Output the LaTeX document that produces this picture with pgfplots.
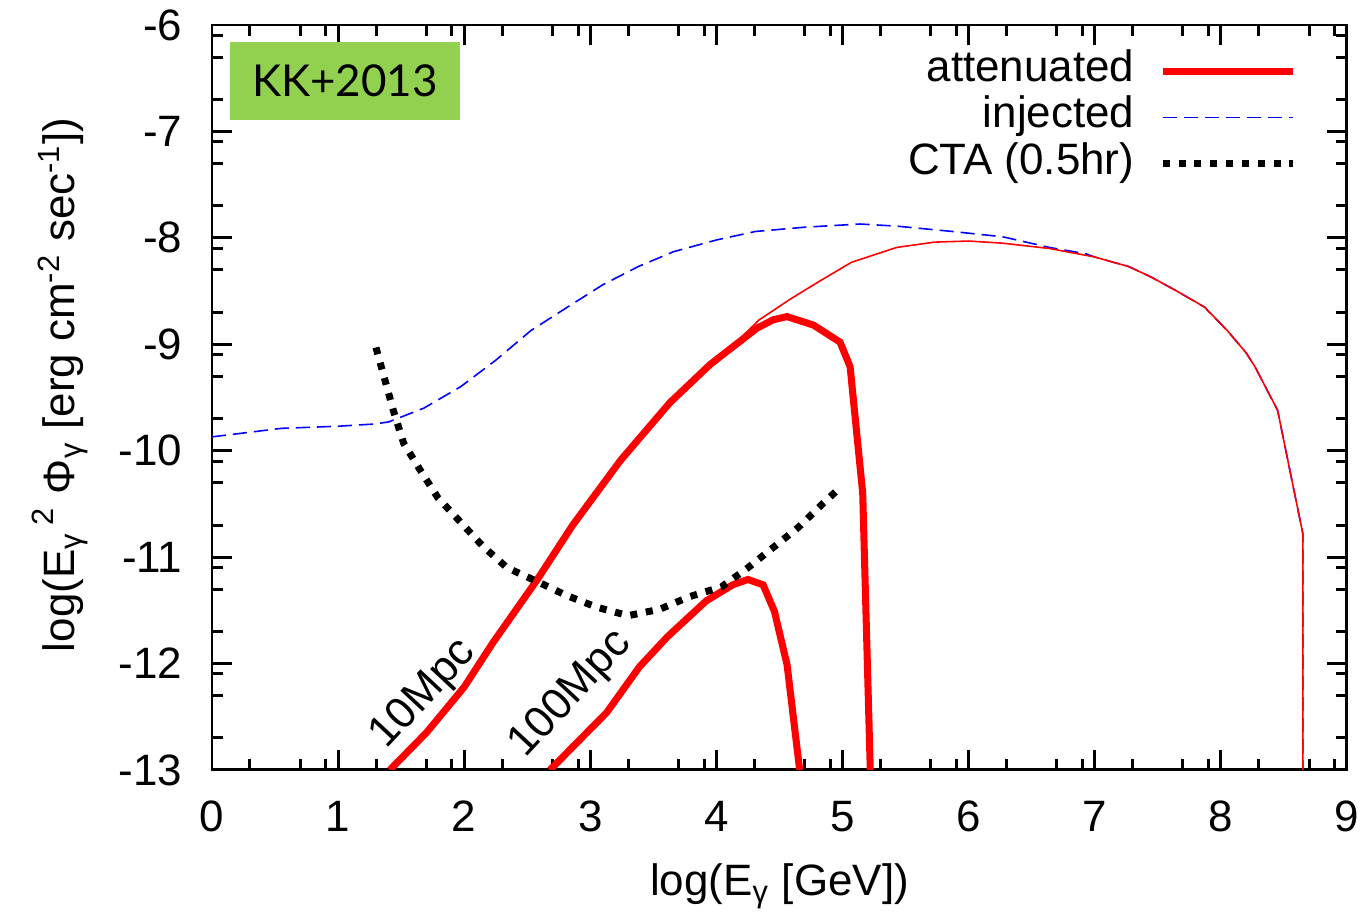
\documentclass[border=0pt]{standalone}
\usepackage{pgfplots}
\pgfplotsset{compat=1.18}
\usepackage{fontspec}
\setmainfont{Liberation Sans}
\newfontfamily\boxfont{Lato}
\definecolor{kkgreen}{RGB}{146,208,80}
\newcommand{\gfont}{\fontsize{12.5}{15}\selectfont}

\begin{document}
\begin{tikzpicture}
\begin{axis}[
  at={(0,0)}, anchor=south west,
  scale only axis,
  width=11.35cm, height=7.45cm,
  xmin=0, xmax=9, ymin=-13, ymax=-6,
  xtick={0,1,...,9}, ytick={-13,-12,...,-6},
  xticklabels={0,1,2,3,4,5,6,7,8,9},
  yticklabels={-13,-12,-11,-10,-9,-8,-7,-6},
  minor xtick={0.301,0.699,0.903,1.301,1.699,1.903,2.301,2.699,2.903,3.301,3.699,3.903,4.301,4.699,4.903,5.301,5.699,5.903,6.301,6.699,6.903,7.301,7.699,7.903,8.301,8.699,8.903},
  minor ytick={-12.699,-12.301,-12.097,-11.699,-11.301,-11.097,-10.699,-10.301,-10.097,-9.699,-9.301,-9.097,-8.699,-8.301,-8.097,-7.699,-7.301,-7.097,-6.699,-6.301,-6.097},
  tick align=inside, tick pos=both,
  major tick length=2mm, minor tick length=1.1mm,
  every tick/.style={black, line width=0.85pt},
  axis line style={line width=0.85pt},
  tick label style={font=\gfont},
  label style={font=\gfont},
  xticklabel style={anchor=base, inner sep=0pt, yshift=-6.2mm},
  yticklabel style={anchor=east, inner sep=0pt, xshift=-2.9mm},
  xlabel={log(E\textsubscript{γ} [GeV])},
  ylabel={log(E\textsubscript{γ}\,\raisebox{0.25ex}{\textsuperscript{2}} Φ\textsubscript{γ} [erg cm\textsuperscript{-2} sec\textsuperscript{-1}])},
  xlabel style={at={(axis description cs:0.5,-0.169)}, anchor=base},
  ylabel style={at={(axis description cs:-0.134,0.517)}, anchor=center},
  legend plot pos=right,
  legend cell align=right,
  legend image code/.code={\draw[#1] (0cm,0cm) -- (1.3cm,0cm);},
  legend style={at={(rel axis cs:0.956,0.967)}, anchor=north east,
    draw=none, fill=none, font=\gfont, inner sep=0pt,
    nodes={inner sep=0pt, text height=9pt, text depth=3pt},
    row sep=1.1pt, column sep=2.5mm},
]
% injected
\addplot[blue, line width=0.45pt, dash pattern=on 4pt off 2pt, forget plot] coordinates {
(0,-9.87) (0.55,-9.79) (1.0,-9.77) (1.28,-9.75) (1.40,-9.73) (1.68,-9.60)
(1.97,-9.40) (2.25,-9.15) (2.53,-8.87) (2.82,-8.65) (3.10,-8.44) (3.38,-8.27)
(3.66,-8.13) (4.00,-8.02) (4.31,-7.94) (4.70,-7.90) (5.14,-7.87) (5.43,-7.89)
(5.87,-7.94) (6.27,-7.99) (6.64,-8.09) (6.93,-8.15) (7.00,-8.18) (7.27,-8.27)
(7.45,-8.37) (7.65,-8.50) (7.87,-8.65) (8.05,-8.87) (8.20,-9.08) (8.27,-9.21)
(8.45,-9.62) (8.65,-10.78) (8.65,-13)
};
% attenuated, nearby source
\addplot[red, line width=0.45pt, forget plot] coordinates {
(4.20,-8.93) (4.34,-8.77) (4.58,-8.58) (4.80,-8.42) (5.07,-8.23) (5.43,-8.09)
(5.73,-8.04) (6.00,-8.03) (6.27,-8.05) (6.64,-8.10) (7.00,-8.18) (7.27,-8.27)
(7.45,-8.37) (7.65,-8.50) (7.87,-8.65) (8.05,-8.87) (8.20,-9.08) (8.27,-9.21)
(8.45,-9.62) (8.65,-10.78) (8.65,-13)
};
% attenuated, 10 Mpc
\addplot[red, line width=2pt, forget plot] coordinates {
(1.41,-13.0) (1.70,-12.65) (2.00,-12.22) (2.23,-11.80) (2.58,-11.21) (2.86,-10.70)
(3.24,-10.09) (3.63,-9.55) (3.95,-9.19) (4.32,-8.85) (4.45,-8.77) (4.56,-8.74)
(4.77,-8.82) (4.98,-8.98) (5.06,-9.21) (5.16,-10.40) (5.22,-13.0)
};
% attenuated, 100 Mpc
\addplot[red, line width=2pt, forget plot] coordinates {
(2.68,-13.0) (3.13,-12.46) (3.39,-12.03) (3.61,-11.75) (3.92,-11.41) (4.13,-11.26)
(4.25,-11.21) (4.37,-11.26) (4.46,-11.51) (4.56,-12.01) (4.66,-13.0)
};
% CTA sensitivity
\addplot[black, line width=2pt, dash pattern=on 2pt off 2.5pt, forget plot] coordinates {
(1.30,-9.03) (1.37,-9.33) (1.44,-9.63) (1.52,-9.93) (1.65,-10.18) (1.79,-10.44)
(1.97,-10.67) (2.15,-10.90) (2.34,-11.10) (2.58,-11.23) (2.81,-11.36) (3.05,-11.47)
(3.30,-11.55) (3.55,-11.49) (3.79,-11.37) (4.04,-11.28) (4.25,-11.10) (4.45,-10.91)
(4.65,-10.72) (4.85,-10.49) (4.96,-10.37)
};

\addlegendimage{red, line width=2pt}
\addlegendentry{attenuated}
\addlegendimage{blue, line width=0.45pt, dash pattern=on 4pt off 2pt}
\addlegendentry{injected}
\addlegendimage{black, line width=2pt, dash pattern=on 2pt off 2.5pt}
\addlegendentry{CTA (0.5hr)}

\node[fill=kkgreen, minimum width=2.3cm, minimum height=0.78cm, inner sep=0pt,
  font=\boxfont\gfont] at (axis cs:1.055,-6.526) {KK+2013};
\node[rotate=47, font=\gfont] at (axis cs:1.68,-12.29) {10Mpc};
\node[rotate=47, font=\gfont] at (axis cs:2.85,-12.29) {100Mpc};
\end{axis}
\pgfresetboundingbox
\path[use as bounding box] (-2.12cm,-1.46cm) rectangle (11.55cm,7.70cm);
\end{tikzpicture}
\end{document}
